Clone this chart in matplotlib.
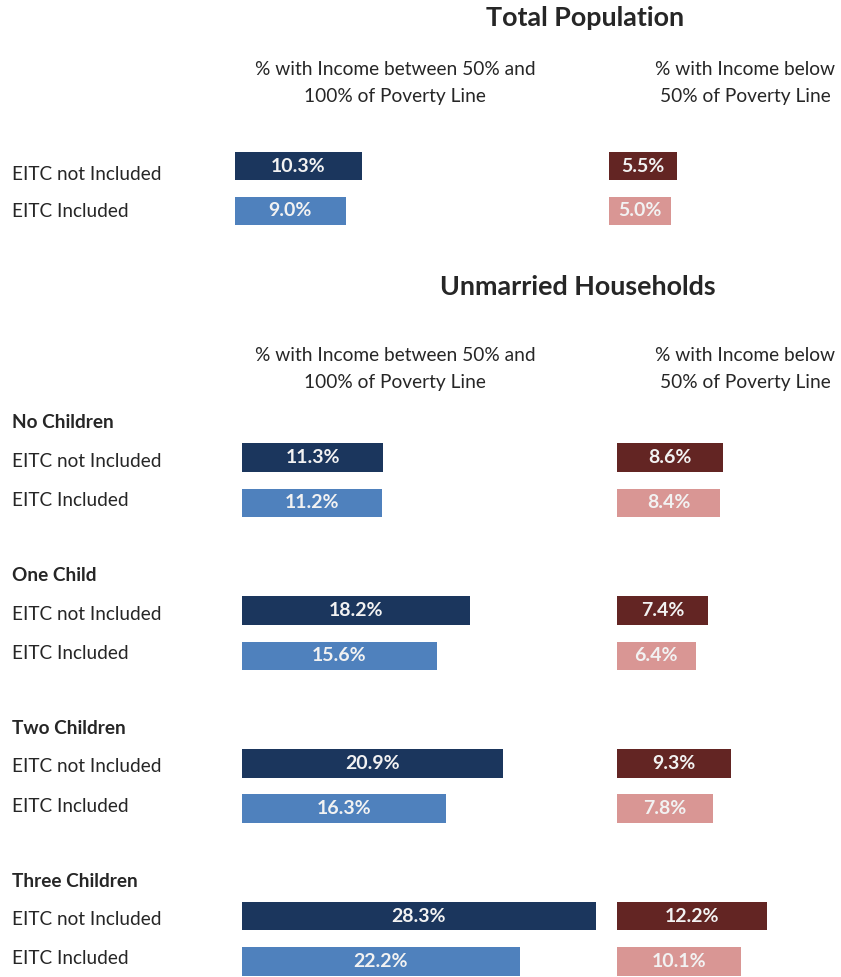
import matplotlib.pyplot as plt
from matplotlib.transforms import blended_transform_factory

# data
row_labels = ["EITC not Included", "EITC Included"]
col_titles = ["% with Income between 50% and\n100% of Poverty Line",
              "% with Income below\n50% of Poverty Line"]

total_mid = [10.3, 9.0]     # between 50% and 100%
total_deep = [5.5, 5.0]     # below 50%

groups = ["No Children", "One Child", "Two Children", "Three Children"]
mid_not = [11.3, 18.2, 20.9, 28.3]
mid_incl = [11.2, 15.6, 16.3, 22.2]
deep_not = [8.6, 7.4, 9.3, 12.2]
deep_incl = [8.4, 6.4, 7.8, 10.1]

c_mid = ["#1b365d", "#4f81bd"]
c_deep = ["#632523", "#d99694"]

plt.rcParams['font.family'] = ['Lato', 'DejaVu Sans']
W, H = 841, 977
fig = plt.figure(figsize=(W / 100, H / 100), dpi=100)


def px_axes(left, top, width, height):
    ax = fig.add_axes([left / W, 1 - (top + height) / H, width / W, height / H])
    ax.axis('off')
    return ax


def bars(ax, ys, vals, colors, h):
    b = ax.barh(ys, vals, height=h, color=colors, clip_on=False)
    for y, v in zip(ys, vals):
        ax.text(v / 2, y, f"{v:.1f}%", ha='center', va='center', color='#f2f2f2',
                fontsize=14, fontweight='bold')
    return b


def ftext(x, y, s, **kw):
    fig.text(x / W, 1 - y / H, s, **kw)


label_kw = dict(fontsize=13.7, color='#262626', va='center', ha='left')
title_kw = dict(fontsize=13.8, color='#262626', va='center', ha='center', linespacing=1.65)
head_kw = dict(fontsize=19.4, fontweight='bold', ha='center', va='center', color='#262626')

# ---- Total population
ftext(585, 18, "Total Population", **head_kw)
ftext(395, 83, col_titles[0], **title_kw)
ftext(745, 83, col_titles[1], **title_kw)

unit = 45
ax1 = px_axes(235, 166 - unit / 2, 30 * 12.3, 2 * unit)
ax1.set_xlim(0, 30)
ax1.set_ylim(1.5, -0.5)
bars(ax1, [0, 1], total_mid, c_mid, 0.62)

ax2 = px_axes(609, 166 - unit / 2, 15 * 12.4, 2 * unit)
ax2.set_xlim(0, 15)
ax2.set_ylim(1.5, -0.5)
bars(ax2, [0, 1], total_deep, c_deep, 0.62)

tr = blended_transform_factory(fig.transFigure, ax1.transData)
ax1.text(12 / W, 0 + 0.18, row_labels[0], transform=tr, **label_kw)
ax1.text(12 / W, 1 + 0.02, row_labels[1], transform=tr, **label_kw)

# ---- Unmarried households
ftext(578, 287, "Unmarried Households", **head_kw)
ftext(395, 369, col_titles[0], **title_kw)
ftext(745, 369, col_titles[1], **title_kw)

unit = 45.5
gap = 3.36
y_not = [i * gap for i in range(len(groups))]
y_incl = [y + 1 for y in y_not]

ax3 = px_axes(242, 457.5 - unit / 2, 30 * 12.5, 12 * unit)
ax3.set_xlim(0, 30)
ax3.set_ylim(11.5, -0.5)
bars(ax3, y_not, mid_not, c_mid[0], 0.63)
bars(ax3, y_incl, mid_incl, c_mid[1], 0.63)

ax4 = px_axes(617, 457.5 - unit / 2, 15 * 12.3, 12 * unit)
ax4.set_xlim(0, 15)
ax4.set_ylim(11.5, -0.5)
bars(ax4, y_not, deep_not, c_deep[0], 0.63)
bars(ax4, y_incl, deep_incl, c_deep[1], 0.63)

tr = blended_transform_factory(fig.transFigure, ax3.transData)
for g, yn, yi in zip(groups, y_not, y_incl):
    ax3.text(12 / W, yn - 0.76, g, transform=tr, fontweight='bold', **label_kw)
    ax3.text(12 / W, yn + 0.08, row_labels[0], transform=tr, **label_kw)
    ax3.text(12 / W, yi - 0.06, row_labels[1], transform=tr, **label_kw)

fig.savefig("out.png", dpi=100)
